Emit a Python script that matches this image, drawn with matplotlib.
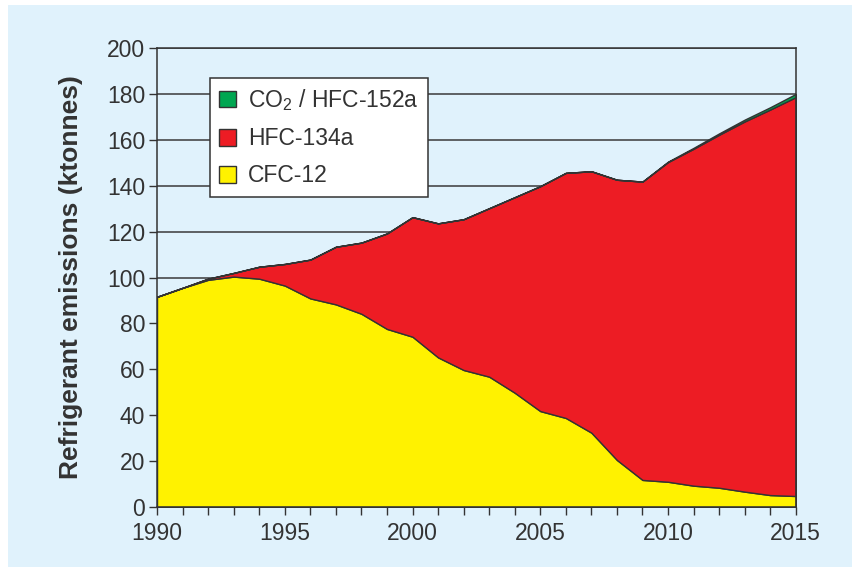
# Stacked area chart of refrigerant emissions, 1990-2015
import numpy as np
import matplotlib
matplotlib.use('Agg')
import matplotlib.pyplot as plt
from matplotlib.patches import Rectangle

plt.rcParams['font.family'] = ['Liberation Sans', 'DejaVu Sans']
plt.rcParams['mathtext.fontset'] = 'custom'
plt.rcParams['mathtext.rm'] = 'Liberation Sans'
plt.rcParams['mathtext.it'] = 'Liberation Sans:italic'

# data (ktonnes)
years = list(range(1990, 2016))
cfc12 = [91.6, 95.5, 99.0, 100.4, 99.5, 96.5, 90.9, 88.3, 84.2, 77.6,
         74.2, 65.2, 59.7, 56.8, 49.8, 41.8, 38.8, 32.4, 20.5, 11.8,
         11.0, 9.3, 8.4, 6.7, 5.2, 4.8]
hfc134a = [0.0, 0.0, 0.5, 1.6, 5.2, 9.4, 16.9, 25.1, 31.0, 41.6,
           52.1, 58.4, 65.7, 73.4, 85.2, 98.0, 106.8, 113.9, 122.1, 130.0,
           139.3, 146.8, 153.8, 161.3, 168.0, 173.8]
co2_hfc152a = [0, 0, 0, 0, 0, 0, 0, 0, 0, 0,
               0, 0, 0, 0, 0, 0, 0, 0, 0, 0,
               0.2, 0.4, 0.6, 0.8, 1.0, 1.4]
labels = ['CFC-12', 'HFC-134a', 'CO$_2$ / HFC-152a']
colors = ['#FFF200', '#ED1C24', '#00A651']

bg = '#E0F2FC'
dark = '#333333'

fig = plt.figure(figsize=(8.52, 5.67), dpi=100)
fig.patch.set_facecolor('white')
fig.patches.append(Rectangle((8 / 852, 0), 1, 1 - 5 / 567, transform=fig.transFigure,
                             facecolor=bg, edgecolor='none', zorder=-10))

ax = fig.add_axes([0.1843, 0.1058, 0.7497, 0.8095])
ax.set_facecolor(bg)

ax.stackplot(years, cfc12, hfc134a, co2_hfc152a, colors=colors, labels=labels,
             edgecolor=dark, linewidth=1.0, zorder=2)

ax.set_xlim(1990, 2015)
ax.set_ylim(0, 200)
ax.set_yticks(np.arange(0, 201, 20))
ax.set_xticks(range(1990, 2016, 5))
ax.set_xticks(years, minor=True)
ax.yaxis.grid(True, color='#3a3a3a', linewidth=1.1, zorder=1)
ax.set_axisbelow(True)

for s in ax.spines.values():
    s.set_color(dark)
    s.set_linewidth(1.1)
    s.set_zorder(3)

ax.tick_params(axis='both', which='both', direction='out', length=5.5, width=1.0,
               color=dark, labelcolor='#333333', labelsize=16.5)
ax.tick_params(axis='x', pad=5)
ax.tick_params(axis='y', pad=3)

ax.set_ylabel('Refrigerant emissions (ktonnes)', fontsize=19, fontweight='bold',
              color='#333333', labelpad=17)

h, l = ax.get_legend_handles_labels()
leg = ax.legend(h[::-1], l[::-1], loc='upper left', bbox_to_anchor=(0.083, 0.935),
                fontsize=16.5, frameon=True, fancybox=False, edgecolor=dark,
                handlelength=0.75, handleheight=0.75, handletextpad=0.5,
                labelspacing=0.62, borderpad=0.4, borderaxespad=0)
leg.get_frame().set_linewidth(1.1)
leg.get_frame().set_alpha(1)
for t in leg.get_texts():
    t.set_color('#333333')
for p in leg.get_patches():
    p.set_edgecolor(dark)
    p.set_linewidth(1.0)

plt.savefig('out.png', dpi=100)
